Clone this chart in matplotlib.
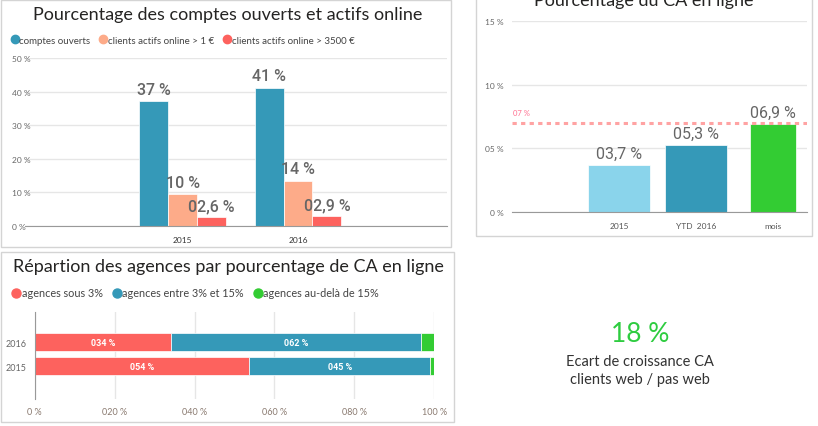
import numpy as np
import matplotlib.pyplot as plt
from matplotlib.lines import Line2D
from matplotlib.patches import Rectangle

# comptes ouverts / actifs online
annees = ["2015", "2016"]
comptes_ouverts = [37.1, 41.2]
actifs_1 = [9.5, 13.5]
actifs_3500 = [2.6, 2.9]

# CA en ligne
ca_cats = ["2015", "YTD  2016", "mois"]
ca_vals = [3.7, 5.3, 6.9]
ca_objectif = 7

# repartition des agences (2015, 2016)
rep_annees = ["2015", "2016"]
sous_3 = [53.7, 34.2]
entre_3_15 = [45.3, 62.4]
audela_15 = [1.0, 3.4]

ecart_ca = 18

BLEU = "#3599B8"
ORANGE = "#FDAB89"
ROUGE = "#FD625E"
BLEU_CLAIR = "#8AD4EB"
VERT = "#33CC33"
GRIS_TXT = "#666666"
FONT = "Lato"
NUM_FONT = "Roboto"

plt.rcParams["font.family"] = [FONT, "DejaVu Sans"]

W, H = 818, 427
fig = plt.figure(figsize=(W / 100, H / 100), dpi=100)


def px_axes(x0, y0, x1, y1):
    return fig.add_axes([x0 / W, 1 - y1 / H, (x1 - x0) / W, (y1 - y0) / H])


def fmt_pct(v):
    if round(v) >= 10:
        return f"{round(v)} %"
    return f"{v:04.1f} %".replace(".", ",")


def style_axis(ax):
    for s in ["top", "right", "left"]:
        ax.spines[s].set_visible(False)
    ax.spines["bottom"].set_color("#999999")
    ax.tick_params(length=0, colors=GRIS_TXT, labelsize=6)
    ax.set_axisbelow(True)


def border(x0, y0, x1, y1):
    fig.add_artist(Rectangle((x0 / W, 1 - y1 / H), (x1 - x0) / W, (y1 - y0) / H,
                             transform=fig.transFigure, fill=False,
                             edgecolor="#d4d4d4", lw=1))


border(0.5, 0.5, 451, 248)
border(0.5, 253, 454, 423)
border(476, -5, 812, 237)

# ---- haut gauche
ax1 = px_axes(25, 59, 447, 227)
x = np.arange(len(annees))
w = 0.25
series = [(comptes_ouverts, BLEU), (actifs_1, ORANGE), (actifs_3500, ROUGE)]
for i, (vals, col) in enumerate(series):
    xs = x + (i - 1) * w
    ax1.bar(xs, vals, w, color=col, edgecolor="white", lw=0.5)
    for xi, v in zip(xs, vals):
        ax1.annotate(fmt_pct(v), (xi, v), xytext=(0, 3), textcoords="offset points",
                     ha="center", va="bottom", fontsize=11.5, color=GRIS_TXT,
                     family=NUM_FONT, weight="medium")
ax1.set_xlim(-1.365, 2.29)
ax1.set_ylim(0, 50)
ax1.set_yticks(np.arange(0, 51, 10))
ax1.set_yticklabels([f"{v} %" for v in range(0, 51, 10)])
ax1.set_xticks(x)
ax1.set_xticklabels(annees)
style_axis(ax1)
ax1.tick_params(axis="y", pad=9.5)
ax1.tick_params(axis="x", pad=7, colors="#333333")
for t in ax1.get_yticklabels():
    t.set_ha("left")
ax1.grid(axis="y", color="#e6e6e6", lw=1)

fig.text(228 / W, 1 - 15 / H, "Pourcentage des comptes ouverts et actifs online",
         ha="center", va="center", fontsize=13, color="#252423")
h1 = [Line2D([], [], marker="o", ls="", color=c, markersize=6)
      for c in (BLEU, ORANGE, ROUGE)]
fig.legend(h1, ["comptes ouverts", "clients actifs online > 1 €", "clients actifs online > 3500 €"],
           loc="center left", bbox_to_anchor=(1 / W, 1 - 41 / H), ncol=3, frameon=False,
           fontsize=7, handletextpad=-0.5, columnspacing=0.3, borderaxespad=0,
           labelcolor="#444444")

# ---- haut droite
ax2 = px_axes(512, 21.7, 807, 213.3)
xc = np.arange(len(ca_cats))
ax2.bar(xc, ca_vals, [0.8, 0.8, 0.6], color=[BLEU_CLAIR, BLEU, VERT],
        edgecolor="white", lw=0.5)
for xi, v in zip(xc, ca_vals):
    ax2.annotate(fmt_pct(v), (xi, v), xytext=(0, 3), textcoords="offset points",
                 ha="center", va="bottom", fontsize=11.5, color=GRIS_TXT,
                 family=NUM_FONT)
ax2.axhline(ca_objectif, color="#FFA3A3", lw=2.2, ls=(0, (1.4, 1.4)))
ax2.annotate(f"{ca_objectif:02d} %", (0, ca_objectif), xycoords=("axes fraction", "data"),
             xytext=(1, 5), textcoords="offset points", ha="left", va="bottom",
             fontsize=5.5, color="#FF6F8F")
ax2.set_xlim(-1.39, 2.44)
ax2.set_ylim(0, 15)
ax2.set_yticks([0, 5, 10, 15])
ax2.set_yticklabels(["0 %"] + [f"{v:02d} %" for v in (5, 10, 15)])
ax2.set_xticks(xc)
ax2.set_xticklabels(ca_cats)
style_axis(ax2)
ax2.tick_params(axis="y", pad=6)
ax2.tick_params(axis="x", pad=7, colors="#555555")
ax2.grid(axis="y", color="#e6e6e6", lw=1)
fig.text(644 / W, 1 - 6 / H, "Pourcentage du CA en ligne", ha="center", va="baseline",
         fontsize=13, color="#252423")

# ---- bas gauche
ax3 = px_axes(34.7, 313, 434.3, 400)
y = np.arange(len(rep_annees))
left = np.zeros(len(rep_annees))
for vals, col in [(sous_3, ROUGE), (entre_3_15, BLEU), (audela_15, VERT)]:
    ax3.barh(y, vals, 0.75, left=left, color=col, edgecolor="white", lw=0.5)
    for yi, l, v in zip(y, left, vals):
        if v > 5:
            ax3.text(l + v / 2, yi, f"{round(v):03d} %", ha="center", va="center",
                     fontsize=6.5, color="white", weight="bold", family=NUM_FONT)
    left = left + np.array(vals)
ax3.set_xlim(0, 100)
ax3.set_ylim(-1.354, 2.26)
ax3.set_xticks(np.arange(0, 101, 20))
ax3.set_xticklabels(["0 %"] + [f"{v:03d} %" for v in range(20, 101, 20)])
ax3.set_yticks(y)
ax3.set_yticklabels(rep_annees)
for s in ["top", "right", "bottom"]:
    ax3.spines[s].set_visible(False)
ax3.spines["left"].set_color("#999999")
ax3.tick_params(length=0, colors=GRIS_TXT, labelsize=6.5)
ax3.tick_params(axis="x", pad=6, colors="#8a7a70")
ax3.tick_params(axis="y", pad=6)
ax3.set_axisbelow(True)
ax3.grid(axis="x", color="#e6e6e6", lw=1)

fig.text(228 / W, 1 - 267 / H, "Répartion des agences par pourcentage de CA en ligne",
         ha="center", va="center", fontsize=13, color="#252423")
h3 = [Line2D([], [], marker="o", ls="", color=c, markersize=6.5)
      for c in (ROUGE, BLEU, VERT)]
fig.legend(h3, ["agences sous 3%", "agences entre 3% et 15%", "agences au-delà de 15%"],
           loc="center left", bbox_to_anchor=(1 / W, 1 - 294 / H), ncol=3, frameon=False,
           fontsize=7.8, handletextpad=-0.5, columnspacing=0.3, borderaxespad=0,
           labelcolor="#444444")

# ---- bas droite
fig.text(640 / W, 1 - 335 / H, f"{ecart_ca} %", ha="center", va="center",
         fontsize=19, color="#2ECC40")
fig.text(640 / W, 1 - 371 / H, "Ecart de croissance CA\nclients web / pas web",
         ha="center", va="center", fontsize=10.5, color="#333333", linespacing=1.4)

fig.savefig("out.png", dpi=100)
